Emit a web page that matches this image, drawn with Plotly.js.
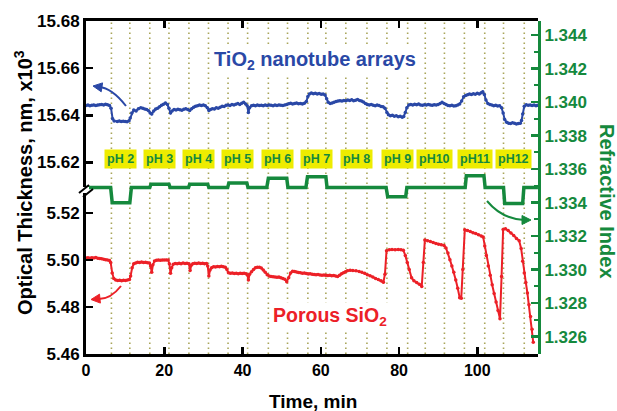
<!DOCTYPE html>
<html><head><meta charset="utf-8">
<script src="https://cdn.plot.ly/plotly-3.0.1.min.js"></script>
<style>html,body{margin:0;padding:0;background:#fff}#chart{width:617px;height:411px}</style>
</head><body><div id="chart"></div>
<script>
// ---- data ----
const tioTime = [0,0.5,1,1.5,2,2.5,3,3.5,4,4.5,5,5.5,6,6.4,6.8,7.2,8,8.5,9,9.5,10,10.5,11,11.3,11.7,12.2,12.8,13.4,14,14.5,15,15.5,16,16.4,16.8,17.3,17.8,18.3,18.8,19.3,19.8,20.3,20.8,21.2,21.6,22,22.5,23,23.5,24,24.5,25,25.5,26,26.5,27,27.5,28,28.5,29,29.5,30,30.5,31,31.4,31.8,32.3,32.8,33.3,33.8,34.3,34.8,35.3,35.8,36.3,36.8,37.3,37.8,38.3,38.8,39.3,39.8,40.3,40.8,41.2,41.5,41.8,42.3,42.8,43.3,43.8,44.3,44.8,45.3,45.8,46.3,46.8,47.3,47.8,48.3,48.8,49.3,49.8,50.3,50.8,51.3,51.8,52.3,52.8,53.3,53.8,54.3,54.8,55.3,55.8,56.3,56.7,57.1,57.6,58.1,58.6,59.1,59.6,60.1,60.6,61.1,61.5,61.9,62.4,62.9,63.4,63.9,64.4,64.9,65.4,65.9,66.4,66.9,67.4,67.9,68.4,68.9,69.4,69.9,70.4,70.9,71.4,71.9,72.4,72.9,73.4,73.9,74.4,74.9,75.4,75.9,76.4,76.9,77.3,77.8,78.3,78.8,79.3,79.8,80.3,80.8,81.2,81.6,82,82.5,83,83.5,84,84.5,85,85.5,86,86.5,87,87.5,88,88.5,89,89.5,90,90.5,91,91.5,92,92.5,93,93.5,94,94.5,95,95.5,96,96.5,97,97.5,98,98.5,99,99.5,100,100.5,101,101.4,101.8,102.2,102.7,103.2,103.7,104.2,104.7,105.2,105.7,106.2,106.6,107,107.5,108,108.5,109,109.5,110,110.5,111,111.3,111.6,112,112.5,113,113.5,114,114.5,115,115.4];
const tioThickness = [15.6441,15.6443,15.6440,15.6442,15.6444,15.6441,15.6443,15.6445,15.6446,15.6444,15.6447,15.6445,15.6441,15.6430,15.6385,15.6376,15.6374,15.6376,15.6373,15.6375,15.6374,15.6372,15.6377,15.6388,15.6410,15.6422,15.6418,15.6428,15.6432,15.6430,15.6426,15.6424,15.6419,15.6410,15.6405,15.6418,15.6426,15.6430,15.6436,15.6442,15.6447,15.6452,15.6446,15.6430,15.6410,15.6418,15.6424,15.6422,15.6425,15.6423,15.6421,15.6425,15.6428,15.6424,15.6420,15.6428,15.6434,15.6438,15.6440,15.6443,15.6441,15.6444,15.6440,15.6432,15.6420,15.6424,15.6428,15.6426,15.6432,15.6430,15.6434,15.6438,15.6437,15.6442,15.6444,15.6441,15.6446,15.6444,15.6447,15.6450,15.6446,15.6451,15.6455,15.6448,15.6440,15.6412,15.6432,15.6440,15.6442,15.6440,15.6443,15.6441,15.6442,15.6440,15.6443,15.6441,15.6444,15.6442,15.6440,15.6443,15.6441,15.6444,15.6442,15.6441,15.6444,15.6446,15.6449,15.6451,15.6448,15.6450,15.6452,15.6449,15.6450,15.6448,15.6451,15.6458,15.6480,15.6490,15.6494,15.6491,15.6493,15.6490,15.6492,15.6489,15.6490,15.6486,15.6470,15.6455,15.6450,15.6452,15.6455,15.6458,15.6460,15.6462,15.6460,15.6463,15.6462,15.6465,15.6463,15.6466,15.6462,15.6464,15.6467,15.6463,15.6460,15.6456,15.6450,15.6446,15.6444,15.6446,15.6442,15.6440,15.6443,15.6441,15.6437,15.6436,15.6430,15.6412,15.6402,15.6398,15.6400,15.6396,15.6398,15.6394,15.6396,15.6392,15.6395,15.6412,15.6432,15.6444,15.6446,15.6443,15.6447,15.6445,15.6448,15.6444,15.6442,15.6445,15.6443,15.6446,15.6444,15.6442,15.6445,15.6443,15.6446,15.6450,15.6455,15.6450,15.6446,15.6441,15.6440,15.6442,15.6439,15.6440,15.6443,15.6448,15.6460,15.6478,15.6484,15.6487,15.6490,15.6488,15.6491,15.6489,15.6493,15.6490,15.6496,15.6500,15.6488,15.6465,15.6450,15.6446,15.6443,15.6440,15.6442,15.6439,15.6440,15.6432,15.6410,15.6382,15.6370,15.6366,15.6365,15.6368,15.6366,15.6363,15.6365,15.6366,15.6378,15.6405,15.6438,15.6445,15.6442,15.6444,15.6441,15.6443,15.6440,15.6442];

const sioTime = [0,0.5,1,1.5,2,2.5,3,3.5,4,4.5,5,5.5,6,6.3,6.7,7.1,7.6,8.1,8.6,9.1,9.6,10.1,10.6,11.1,11.4,11.8,12.2,12.7,13.2,13.7,14.2,14.7,15.2,15.7,16.2,16.5,16.8,17.1,17.5,18,18.5,19,19.5,20,20.5,21,21.3,21.6,21.9,22.3,22.8,23.3,23.8,24.3,24.8,25.3,25.8,26.3,26.6,26.9,27.3,27.8,28.3,28.8,29.3,29.8,30.3,30.8,31.1,31.4,31.7,32.1,32.6,33.1,33.6,34.1,34.6,35.1,35.6,36,36.4,36.9,37.4,37.9,38.4,38.9,39.4,39.9,40.4,40.9,41.3,41.5,41.8,42.3,42.8,43.3,43.8,44.3,44.8,45.3,45.8,46.3,46.8,47.3,47.8,48.3,48.8,49.3,49.8,50.3,50.8,51.3,51.8,52.3,52.8,53.3,53.8,54.3,54.8,55.3,55.8,56.3,56.8,57.3,57.8,58.3,58.8,59.3,59.8,60.3,60.8,61.3,61.8,62.3,62.8,63.3,63.8,64.3,64.8,65.3,65.8,66.3,66.8,67.5,68.2,69,69.8,70.5,71.2,71.9,72.6,73.3,74,74.7,75.4,76,76.4,76.8,77.5,78.2,79,79.8,80.5,81.1,81.6,82.1,82.6,83.2,83.8,84.5,85.2,85.8,86.2,86.6,87.3,88,88.7,89.4,90.1,90.8,91.5,92,92.5,93,93.5,94,94.5,95,95.5,95.9,96.3,96.8,97.5,98.2,98.9,99.6,100.3,101,101.5,101.9,102.3,102.8,103.3,103.8,104.3,104.8,105.3,105.8,106.2,106.6,107.2,107.9,108.6,109.3,110,110.7,111.2,111.6,112,112.4,112.8,113.2,113.6,114,114.3];
const sioThickness = [5.5009,5.5010,5.5008,5.5010,5.5009,5.5011,5.5008,5.5007,5.5006,5.5004,5.5002,5.5001,5.4998,5.4990,5.4945,5.4922,5.4915,5.4913,5.4914,5.4912,5.4914,5.4913,5.4915,5.4917,5.4932,5.4968,5.4984,5.4988,5.4991,5.4990,5.4992,5.4990,5.4991,5.4989,5.4988,5.4975,5.4948,5.4980,5.4996,5.4999,5.5000,5.4999,5.5001,5.5000,5.5001,5.5000,5.4985,5.4944,5.4968,5.4982,5.4986,5.4984,5.4987,5.4985,5.4988,5.4986,5.4987,5.4984,5.4956,5.4978,5.4985,5.4987,5.4986,5.4988,5.4986,5.4987,5.4985,5.4986,5.4975,5.4932,5.4958,5.4968,5.4972,5.4971,5.4973,5.4972,5.4974,5.4972,5.4970,5.4960,5.4946,5.4944,5.4945,5.4943,5.4944,5.4942,5.4944,5.4943,5.4944,5.4942,5.4935,5.4915,5.4940,5.4950,5.4960,5.4968,5.4970,5.4970,5.4966,5.4958,5.4948,5.4938,5.4932,5.4930,5.4929,5.4928,5.4927,5.4928,5.4925,5.4922,5.4918,5.4908,5.4925,5.4945,5.4953,5.4951,5.4949,5.4947,5.4946,5.4944,5.4945,5.4943,5.4941,5.4942,5.4940,5.4939,5.4938,5.4939,5.4937,5.4936,5.4937,5.4935,5.4934,5.4935,5.4933,5.4934,5.4932,5.4930,5.4936,5.4942,5.4946,5.4950,5.4955,5.4957,5.4956,5.4955,5.4952,5.4948,5.4944,5.4938,5.4933,5.4928,5.4922,5.4917,5.4912,5.4906,5.4940,5.5040,5.5044,5.5045,5.5044,5.5045,5.5044,5.5042,5.5020,5.4990,5.4960,5.4925,5.4912,5.4905,5.4897,5.4888,5.4990,5.5086,5.5083,5.5079,5.5075,5.5071,5.5068,5.5065,5.5062,5.5052,5.5030,5.5002,5.4975,5.4948,5.4915,5.4880,5.4840,5.4838,5.4960,5.5129,5.5126,5.5122,5.5117,5.5113,5.5108,5.5103,5.5098,5.5060,5.5020,5.4975,5.4935,5.4895,5.4858,5.4822,5.4785,5.4750,5.4930,5.5130,5.5134,5.5126,5.5116,5.5105,5.5092,5.5082,5.5050,5.4995,5.4945,5.4905,5.4860,5.4810,5.4760,5.4705,5.4650];

const riTime = [0,6.3,6.7,11.2,11.6,16.3,16.6,21.2,21.5,26.2,26.5,31.1,31.4,36.2,36.5,41.1,41.4,46.2,46.6,51.3,51.6,56.2,56.6,61.3,61.6,76.7,77.1,81.7,82.0,96.9,97.2,101.7,102.0,106.7,107.0,111.6,111.9,115.5];
const refractiveIndex = [1.3349,1.3349,1.3340,1.3340,1.3349,1.3349,1.3351,1.3351,1.3349,1.3349,1.3351,1.3351,1.3349,1.3349,1.33517,1.33517,1.3349,1.3349,1.33545,1.33545,1.3349,1.3349,1.33555,1.33555,1.3349,1.3349,1.33435,1.33435,1.3349,1.3349,1.3356,1.3356,1.3349,1.3349,1.33395,1.33395,1.3349,1.3349];

const phLabels = ['pH 2','pH 3','pH 4','pH 5','pH 6','pH 7','pH 8','pH 9','pH10','pH11','pH12'];
const phStart = [6.5,16.3,26.3,36.3,46.6,56.7,66.4,76.9,86.7,96.7,106.7];
const phEnd   = [11.2,21.2,31.3,41.3,51.5,61.3,71.8,82.2,91.6,101.9,112.0];
const xTicks = [0,20,40,60,80,100];
const upperTicks = [15.62,15.64,15.66,15.68];
const lowerTicks = [5.46,5.48,5.50,5.52];

// ---- styling ----
const BLUE='#2a48a6', RED='#ec2027', GREEN='#15893d', YELLOW='#eeec00', DOT='#a9a55a';
const FAM='Liberation Sans, Arial, sans-serif';
const W=617,H=411,L=86,R=79,T=21,B=57;
const pw=W-L-R, ph=H-T-B;
const px=p=>(p-L)/pw, py=p=>(H-B-p)/ph;
const split=py(189);

const traces=[
 {x:tioTime,y:tioThickness,xaxis:'x',yaxis:'y',mode:'lines+markers',line:{color:BLUE,width:2},marker:{color:BLUE,size:3.5},hoverinfo:'skip'},
 {x:sioTime,y:sioThickness,xaxis:'x',yaxis:'y2',mode:'lines+markers',line:{color:RED,width:2},marker:{color:RED,size:3.5},hoverinfo:'skip'},
 {x:riTime,y:refractiveIndex,xaxis:'x',yaxis:'y3',mode:'lines',line:{color:GREEN,width:3.5},hoverinfo:'skip'},
 {x:[],y:[],xaxis:'x2',yaxis:'y',mode:'lines',hoverinfo:'skip'}
];

const tf=(c,s)=>({family:FAM,size:s,color:c,weight:'bold'});
const shapes=[];
phStart.concat(phEnd).forEach(t=>{
 shapes.push({type:'line',xref:'x',yref:'paper',x0:t,x1:t,y0:0,y1:1,layer:'below',line:{color:DOT,width:1.6,dash:'1.6px,3.4px'}});
});
// axis break
shapes.push({type:'rect',xref:'paper',yref:'paper',x0:px(83),x1:px(89),y0:py(193),y1:py(187),fillcolor:'#fff',line:{width:0}});
shapes.push({type:'line',xref:'paper',yref:'paper',x0:px(79),y0:py(193),x1:px(89),y1:py(185),line:{color:'#000',width:2}});
shapes.push({type:'line',xref:'paper',yref:'paper',x0:px(83),y0:py(197),x1:px(93),y1:py(189),line:{color:'#000',width:2}});
// curved arrows
function curve(x0,y0,cx,cy,x1,y1,col){
 shapes.push({type:'path',xref:'paper',yref:'paper',path:`M ${px(x0)} ${py(y0)} Q ${px(cx)} ${py(cy)} ${px(x1)} ${py(y1)}`,line:{color:col,width:2}});
}
function head(x,y,dx,dy,col){ // tip at (x,y), direction (dx,dy) in px
 const n=Math.hypot(dx,dy), ux=dx/n, uy=dy/n, len=9, w=4.5;
 const bx=x-ux*len, by=y-uy*len;
 const p1=[bx-uy*w,by+ux*w], p2=[bx+uy*w,by-ux*w];
 shapes.push({type:'path',xref:'paper',yref:'paper',path:`M ${px(x)} ${py(y)} L ${px(p1[0])} ${py(p1[1])} L ${px(p2[0])} ${py(p2[1])} Z`,fillcolor:col,line:{color:col,width:1}});
}
curve(126,106,112,88,99,87,BLUE); head(93,86,-10,-1.5,BLUE);
curve(121,286,110,300,97,299,RED); head(91,299.5,-10,1,RED);
curve(487,201,502,219,524,220,GREEN); head(531,220,10,0,GREEN);

const annotations=[];
phLabels.forEach((lab,i)=>{
 annotations.push({xref:'x',yref:'paper',x:(phStart[i]+phEnd[i])/2,y:py(158.5),text:lab,showarrow:false,
  font:{family:FAM,size:12.5,color:GREEN,weight:'bold'},bgcolor:YELLOW,borderpad:2,xanchor:'center',yanchor:'middle'});
});
annotations.push({xref:'paper',yref:'paper',x:px(315),y:py(61),text:'TiO<sub>2</sub> nanotube arrays',showarrow:false,
 font:{family:FAM,size:20,color:BLUE,weight:'bold'},bgcolor:'#fff',xanchor:'center',yanchor:'middle'});
annotations.push({xref:'paper',yref:'paper',x:px(330),y:py(316),text:'Porous SiO<sub>2</sub>',showarrow:false,
 font:{family:FAM,size:19.5,color:RED,weight:'bold'},bgcolor:'#fff',xanchor:'center',yanchor:'middle'});
annotations.push({xref:'paper',yref:'paper',x:px(23),y:py(183),text:'Optical Thickness, nm, x10<sup>3</sup>',textangle:-90,showarrow:false,
 font:{family:FAM,size:20,color:'#000',weight:'bold'},xanchor:'center',yanchor:'middle'});
annotations.push({xref:'paper',yref:'paper',x:px(607),y:py(201),text:'Refractive Index',textangle:90,showarrow:false,
 font:{family:FAM,size:20,color:GREEN,weight:'bold'},xanchor:'center',yanchor:'middle'});
annotations.push({xref:'paper',yref:'paper',x:px(313),y:py(401),text:'Time, min',showarrow:false,
 font:{family:FAM,size:19,color:'#000',weight:'bold'},xanchor:'center',yanchor:'middle'});

const xr=[0,pw/3.913];
const layout={
 width:W,height:H,margin:{l:L,r:R,t:T,b:B,pad:0},paper_bgcolor:'#fff',plot_bgcolor:'rgba(0,0,0,0)',
 showlegend:false,font:{family:FAM},
 xaxis:{domain:[0,1],range:xr,anchor:'y2',showline:true,linecolor:'#000',linewidth:3,ticks:'inside',ticklen:7,tickwidth:2.5,tickcolor:'#000',
  tickvals:xTicks,tickfont:tf('#000',16),showgrid:false,zeroline:false},
 xaxis2:{overlaying:'x',anchor:'y',side:'top',range:xr,showline:true,linecolor:'#000',linewidth:3,ticks:'inside',ticklen:7,tickwidth:2.5,tickcolor:'#000',
  tickvals:xTicks.slice(1),showticklabels:false,showgrid:false,zeroline:false},
 yaxis:{domain:[split,1],range:[15.6087,15.68],anchor:'x',showline:true,linecolor:'#000',linewidth:3,ticks:'inside',ticklen:7,tickwidth:2.5,tickcolor:'#000',
  tickvals:upperTicks,tickformat:'.2f',tickfont:tf('#000',17),showgrid:false,zeroline:false},
 yaxis2:{domain:[0,split],range:[5.46,5.5303],anchor:'x',showline:true,linecolor:'#000',linewidth:3,ticks:'inside',ticklen:7,tickwidth:2.5,tickcolor:'#000',
  tickvals:lowerTicks,tickformat:'.2f',tickfont:tf('#000',17),showgrid:false,zeroline:false},
 yaxis3:{domain:[0,1],range:[1.32497,1.34484],anchor:'x',side:'right',showline:true,linecolor:GREEN,linewidth:3,ticks:'inside',ticklen:7,tickwidth:2.5,tickcolor:GREEN,
  tick0:1.326,dtick:0.002,tickformat:'.3f',tickfont:tf(GREEN,17),showgrid:false,zeroline:false,
  minor:{dtick:0.001,tick0:1.326,ticks:'inside',ticklen:4,tickwidth:2,tickcolor:GREEN,showgrid:false}},
 shapes:shapes,annotations:annotations
};
Plotly.newPlot('chart',traces,layout,{displayModeBar:false,staticPlot:true});
</script></body></html>
